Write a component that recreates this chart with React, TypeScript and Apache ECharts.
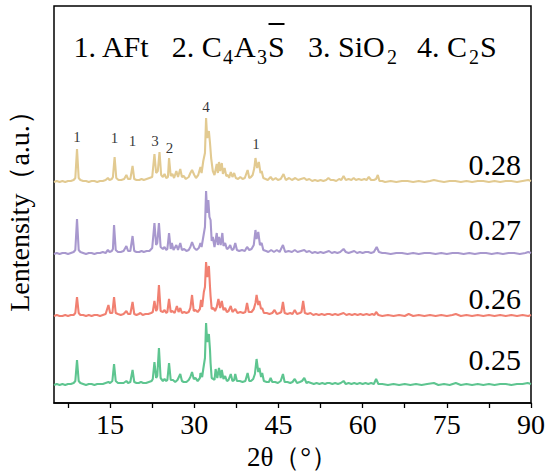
import React, { useEffect, useRef } from "react";
import * as echarts from "echarts";

const seriesNames = ["0.28", "0.27", "0.26", "0.25"];
const seriesColors = ["#E2CA91", "#A898CE", "#F18071", "#5EC590"];
const seriesOffsets = [220, 148, 86, 17];

const xTickValues = [7.5, 15, 22.5, 30, 37.5, 45, 52.5, 60, 67.5, 75, 82.5, 90];
const xLabelValues = [15, 30, 45, 60, 75, 90];

const pattern028 = [[5,1],[5.5,2],[6,1],[6.5,2],[7,1],[7.5,2],[8,2],[8.5,3],[8.8,5],[9.1,34],[9.4,5],[9.7,3],[10.2,2],[10.7,2],[11.2,1],[11.7,2],[12.2,2],[12.7,1],[13.2,2],[13.7,2],[14.2,3],[14.6,5],[14.9,3],[15.3,4],[15.5,6],[15.8,26],[16.1,5],[16.5,3],[17,3],[17.5,4],[17.9,8],[18.2,4],[18.6,4],[19.0,17],[19.3,4],[19.7,3],[20.2,3],[20.6,4],[21,3],[21.5,4],[22,5],[22.5,6],[22.9,29],[23.2,10],[23.5,12],[23.8,31],[24.1,8],[24.4,6],[24.7,9],[25,5],[25.3,6],[25.5,25],[25.8,7],[26.1,9],[26.4,5],[26.8,12],[27.1,6],[27.5,14],[27.8,6],[28.1,7],[28.5,4],[29,6],[29.3,10],[29.6,13],[30,8],[30.3,5],[30.7,8],[31.1,16],[31.3,10],[31.6,22],[31.9,30],[32.1,65],[32.3,45],[32.6,52],[32.8,40],[33,25],[33.3,12],[33.6,8],[34.0,19],[34.2,10],[34.4,21],[34.6,12],[34.9,20],[35.1,9],[35.4,15],[35.7,7],[36,8],[36.2,5],[36.5,11],[36.8,6],[37.1,10],[37.4,5],[37.8,4],[38.2,6],[38.6,4],[39,5],[39.5,13],[39.8,5],[40.1,6],[40.4,8],[40.7,15],[40.9,25],[41.2,15],[41.5,21],[41.8,10],[42,12],[42.3,5],[42.7,4],[43.1,3],[43.6,6],[44,3],[44.5,5],[44.9,3],[45.4,4],[45.9,9],[46.3,3],[46.9,5],[47.4,3],[48,5],[48.5,3],[49,4],[49.6,5],[50,3],[50.5,4],[51,2],[51.5,3],[52,2],[52.5,3],[53,2],[53.5,3],[53.9,5],[54.3,3],[54.8,3],[55.3,2],[55.8,4],[56.2,3],[56.6,7],[57,3],[57.5,4],[58,3],[58.4,5],[58.8,3],[59.3,4],[59.8,3],[60.3,4],[60.7,3],[61.1,6],[61.5,3],[62,3],[62.4,4],[62.7,8],[63,2],[63.5,2],[64,1],[65,2],[66,1],[67,2],[68,2],[69,1],[70,2],[71,1],[72,2],[72.7,3],[73.5,2],[74.5,1],[75.5,2],[76.5,2],[77.5,1],[78.5,2],[79.5,1],[80.5,2],[81.5,2],[82.5,1],[83.5,2],[84.5,1],[85.5,2],[86.5,2],[87.5,1],[88.5,2],[89.5,3],[90,2]];

const pattern027 = [[5,1],[5.5,2],[6,1],[6.5,2],[7,2],[7.5,1],[8,2],[8.5,3],[8.8,5],[9.1,36],[9.4,5],[9.7,3],[10.2,2],[10.7,1],[11.2,2],[11.7,2],[12.2,1],[12.7,2],[13.2,2],[13.7,3],[14.2,2],[14.6,5],[14.9,3],[15.3,4],[15.5,6],[15.7,30],[16,5],[16.4,3],[16.9,3],[17.4,4],[17.9,9],[18.2,4],[18.6,4],[19,19],[19.3,4],[19.7,3],[20.2,3],[20.6,4],[21,3],[21.5,4],[22,4],[22.5,7],[22.9,32],[23.2,10],[23.4,12],[23.7,32],[24,8],[24.4,6],[24.7,8],[25,5],[25.2,6],[25.5,22],[25.8,6],[26,12],[26.3,5],[26.8,10],[27.1,5],[27.5,12],[27.8,5],[28.2,6],[28.6,4],[29,5],[29.3,8],[29.6,13],[30,7],[30.4,5],[30.8,7],[31.1,12],[31.3,8],[31.6,18],[31.9,28],[32.1,64],[32.3,42],[32.5,55],[32.7,38],[32.9,35],[33.1,14],[33.3,18],[33.6,8],[34,22],[34.2,10],[34.4,18],[34.7,10],[35,22],[35.2,9],[35.5,12],[35.8,6],[36.1,7],[36.4,10],[36.7,5],[37,6],[37.3,12],[37.6,5],[38,4],[38.5,5],[39,4],[39.4,8],[39.8,5],[40.2,6],[40.6,10],[40.9,25],[41.1,16],[41.4,23],[41.7,10],[42,12],[42.3,5],[42.8,4],[43.2,3],[43.7,5],[44.2,3],[44.7,5],[45.2,3],[45.8,10],[46.2,3],[46.8,4],[47.4,3],[47.9,5],[48.4,3],[49,4],[49.6,5],[50,3],[50.5,4],[51,2],[51.5,3],[52,2],[52.5,3],[53,2],[53.5,3],[54,4],[54.5,2],[55,3],[55.5,2],[56,3],[56.6,6],[57,3],[57.5,2],[58,3],[58.5,4],[59,2],[59.5,3],[60,2],[60.5,3],[61,3],[61.5,2],[62,3],[62.5,8],[62.9,3],[63.5,2],[64,2],[65,1],[66,2],[67,2],[68,1],[69,2],[70,1],[71,2],[72,2],[73,1],[74,2],[75,1],[76,2],[77,2],[78,1],[79,2],[80,1],[81,2],[82,2],[83,1],[84,2],[85,1],[86,2],[87,2],[88,1],[89,2],[89.5,3],[90,2]];

const pattern026 = [[5,1],[5.5,2],[6,1],[6.5,1],[7,2],[7.5,1],[8,2],[8.5,2],[8.8,4],[9.1,20],[9.4,4],[9.7,2],[10.2,2],[10.7,1],[11.2,2],[11.7,1],[12.2,2],[12.7,2],[13.2,1],[13.7,2],[14.2,3],[14.7,12],[15,4],[15.4,4],[15.7,20],[16,4],[16.4,3],[16.9,2],[17.4,3],[17.9,6],[18.2,3],[18.6,3],[19,15],[19.3,3],[19.7,2],[20.1,3],[20.4,4],[20.8,2],[21.3,3],[21.8,3],[22.3,4],[22.6,5],[22.9,16],[23.2,6],[23.4,8],[23.7,32],[24,6],[24.4,5],[24.7,7],[25,4],[25.2,5],[25.5,18],[25.8,5],[26.1,6],[26.5,4],[26.9,11],[27.2,5],[27.5,9],[27.8,4],[28.2,5],[28.6,4],[29,5],[29.3,9],[29.6,22],[29.9,6],[30.2,7],[30.6,5],[31,8],[31.2,17],[31.4,10],[31.7,25],[31.9,30],[32.1,55],[32.3,40],[32.6,51],[32.8,30],[32.9,21],[33.1,8],[33.4,9],[33.7,6],[34,10],[34.3,18],[34.6,9],[34.9,16],[35.2,7],[35.5,9],[35.8,5],[36.1,6],[36.5,11],[36.8,5],[37.3,8],[37.7,4],[38.2,5],[38.7,4],[39.1,5],[39.4,14],[39.7,5],[40.2,5],[40.6,8],[40.9,14],[41.1,22],[41.4,12],[41.6,16],[41.9,8],[42.1,9],[42.4,4],[42.9,4],[43.4,3],[43.9,4],[44.3,7],[44.7,3],[45.2,4],[45.5,5],[45.8,15],[46.1,4],[46.6,3],[47.1,4],[47.5,3],[47.9,7],[48.3,3],[48.8,4],[49.1,5],[49.4,16],[49.7,4],[50.2,3],[50.7,4],[51.2,2],[51.7,3],[52.2,2],[52.7,3],[53.2,2],[53.7,3],[54.1,3],[54.6,2],[55.1,3],[55.6,2],[56.1,3],[56.6,4],[57.1,2],[57.6,3],[58.1,2],[58.6,3],[59.1,2],[59.6,3],[60.1,2],[60.7,3],[61.2,2],[61.7,3],[62.1,2],[62.4,5],[62.8,2],[63.5,1],[64.5,2],[65.5,1],[66.5,2],[67.5,1],[68.2,3],[69,1],[70,2],[71,1],[72,2],[73,1],[74,2],[75,1],[76,2],[76.6,3],[77.5,1],[78.5,2],[79.5,1],[80.5,2],[81.5,1],[82.5,2],[83.5,1],[84.5,2],[85.5,1],[86.5,2],[87.5,1],[88.5,2],[89.5,1],[90,2]];

const pattern025 = [[5,1],[5.5,2],[6,1],[6.5,2],[7,1],[7.5,2],[8,2],[8.5,3],[8.8,5],[9.1,26],[9.4,5],[9.7,3],[10.2,2],[10.7,1],[11.2,2],[11.7,2],[12.2,1],[12.7,2],[13.2,2],[13.7,2],[14.2,3],[14.7,4],[15,3],[15.4,5],[15.7,22],[16,5],[16.4,3],[16.9,3],[17.4,3],[17.9,5],[18.2,3],[18.6,4],[19,16],[19.3,4],[19.7,3],[20.1,3],[20.5,4],[20.9,3],[21.4,3],[21.9,4],[22.4,5],[22.6,7],[22.9,24],[23.2,8],[23.4,10],[23.7,38],[24,8],[24.4,5],[24.7,7],[25,5],[25.2,6],[25.5,23],[25.8,6],[26.2,6],[26.6,4],[27,6],[27.5,12],[27.8,5],[28.1,4],[28.6,4],[29,6],[29.3,9],[29.6,14],[29.9,7],[30.2,8],[30.6,5],[31,8],[31.1,13],[31.4,9],[31.6,17],[31.9,28],[32.1,63],[32.3,44],[32.6,52],[32.8,36],[32.9,23],[33.1,8],[33.4,7],[33.6,6],[33.8,17],[34.1,8],[34.4,18],[34.7,8],[34.9,16],[35.2,7],[35.5,10],[35.8,5],[36.1,6],[36.5,12],[36.8,5],[37.1,6],[37.3,12],[37.6,5],[38.1,5],[38.6,4],[39.1,5],[39.5,13],[39.8,5],[40.1,5],[40.5,7],[40.8,12],[41.1,27],[41.4,14],[41.6,18],[41.9,9],[42.1,13],[42.4,5],[42.9,4],[43.3,4],[43.6,8],[43.9,4],[44.4,4],[44.9,3],[45.4,5],[45.8,12],[46.1,4],[46.6,4],[47.1,3],[47.5,4],[47.9,7],[48.3,3],[48.8,4],[49.2,5],[49.6,8],[50,3],[50.3,4],[50.8,3],[51.3,2],[51.8,3],[52.3,2],[52.8,3],[53.3,2],[53.7,3],[54.1,3],[54.6,2],[55.1,3],[55.6,2],[56.1,3],[56.6,5],[57,2],[57.5,3],[58,2],[58.5,3],[59,2],[59.5,3],[60,2],[60.5,3],[61,2],[61.5,3],[62,2],[62.4,7],[62.8,2],[63.5,2],[64.5,1],[65.5,2],[66.5,1],[67.5,2],[68.5,1],[69.5,2],[70.5,1],[71.5,2],[72.7,3],[73.5,1],[74.5,2],[75.5,1],[76.6,3],[77.5,1],[78.5,2],[79.5,1],[80.5,2],[81.5,1],[82.5,2],[83.5,1],[84.5,2],[85.5,2],[86.5,1],[87.5,2],[88.5,2],[89.4,3],[90,2]];

const patterns = [pattern028, pattern027, pattern026, pattern025];

// peak markers above the 0.28 pattern: [2θ, height above its baseline, label]
const peakMarks: [number, number, string][] = [
  [9.1, 46, "1"],
  [15.8, 45, "1"],
  [19.0, 42, "1"],
  [23.0, 42, "3"],
  [25.6, 35, "2"],
  [32.1, 76, "4"],
  [41.0, 39, "1"],
];

// phase legend pieces: [text, is subscript]
const legendPieces: [string, boolean][] = [
  ["1. AFt", false],
  ["2. C", false], ["4", true], ["A", false], ["3", true], ["S", false],
  ["3. SiO", false], ["2", true],
  ["4. C", false], ["2", true], ["S", false],
];
const legendX = [73.6, 171.7, 223, 234, 257, 268, 308, 387, 417, 469, 480];

const FONT = '"Times New Roman", "Liberation Serif", serif';

export default function App() {
  const ref = useRef<HTMLDivElement>(null);
  useEffect(() => {
    document.body.style.margin = "0";
    if (!ref.current) return;
    const chart = echarts.init(ref.current, null, { renderer: "svg" });

    const lineSeries = patterns.map((p, i) => ({
      type: "line",
      name: seriesNames[i],
      data: p.map(([t, v]) => [t, v + seriesOffsets[i]]),
      symbol: "none",
      lineStyle: { color: seriesColors[i], width: 2.1 },
      itemStyle: { color: seriesColors[i] },
      z: 2 + i,
    }));

    const markSeries = {
      type: "scatter",
      symbolSize: 0,
      itemStyle: { color: "#000" },
      data: peakMarks.map(([t, h, s]) => [t, h + seriesOffsets[0], s]),
      label: {
        show: true,
        position: "inside",
        formatter: (p: any) => p.value[2],
        fontFamily: FONT,
        fontSize: 15,
        color: "#000",
        textBorderWidth: 0,
        textBorderColor: "transparent",
      },
      emphasis: { disabled: true },
      z: 10,
    };

    const legendTexts = legendPieces.map(([t, isSub], i) => ({
      type: "text",
      style: {
        text: t,
        x: legendX[i],
        y: isSub ? 57 : 46,
        fontFamily: FONT,
        fontSize: isSub ? 20 : 30,
        fill: "#000",
        align: "left",
        verticalAlign: "middle",
      },
    }));

    const labelY = [164, 229, 298, 359];

    chart.setOption({
      animation: false,
      grid: {
        left: 54,
        right: 19,
        top: 6,
        bottom: 71,
        show: true,
        borderColor: "#000",
        borderWidth: 1.5,
        backgroundColor: "transparent",
        outerBoundsMode: "none",
      },
      xAxis: {
        type: "value",
        min: 5,
        max: 90,
        name: "2θ（°）",
        nameLocation: "middle",
        nameGap: 40,
        nameTextStyle: { fontFamily: FONT, fontSize: 27, color: "#000" },
        axisLine: { show: true, lineStyle: { color: "#000", width: 1.5 } },
        axisTick: {
          show: true,
          length: 5,
          inside: false,
          customValues: xTickValues,
          lineStyle: { color: "#000", width: 1.3 },
        },
        axisLabel: {
          customValues: xLabelValues,
          fontFamily: FONT,
          fontSize: 28,
          color: "#000",
          margin: 7,
        },
        splitLine: { show: false },
      },
      yAxis: {
        type: "value",
        min: 0,
        max: 397,
        name: "Lentensity（a.u.）",
        nameLocation: "middle",
        nameRotate: 90,
        nameGap: 21,
        nameTextStyle: { fontFamily: FONT, fontSize: 28, color: "#000" },
        axisLine: { show: false },
        axisTick: { show: false },
        axisLabel: { show: false },
        splitLine: { show: false },
      },
      series: [...lineSeries, markSeries],
      graphic: [
        ...legendTexts,
        {
          type: "line",
          shape: { x1: 268.5, y1: 24, x2: 284.5, y2: 24 },
          style: { stroke: "#000", lineWidth: 2 },
        },
        ...seriesNames.map((n, i) => ({
          type: "text",
          style: {
            text: n,
            x: 521,
            y: labelY[i],
            fontFamily: FONT,
            fontSize: 30,
            fill: "#000",
            align: "right",
            verticalAlign: "middle",
          },
        })),
      ],
    });
    return () => chart.dispose();
  }, []);
  return <div ref={ref} style={{ width: 550, height: 474 }} />;
}
